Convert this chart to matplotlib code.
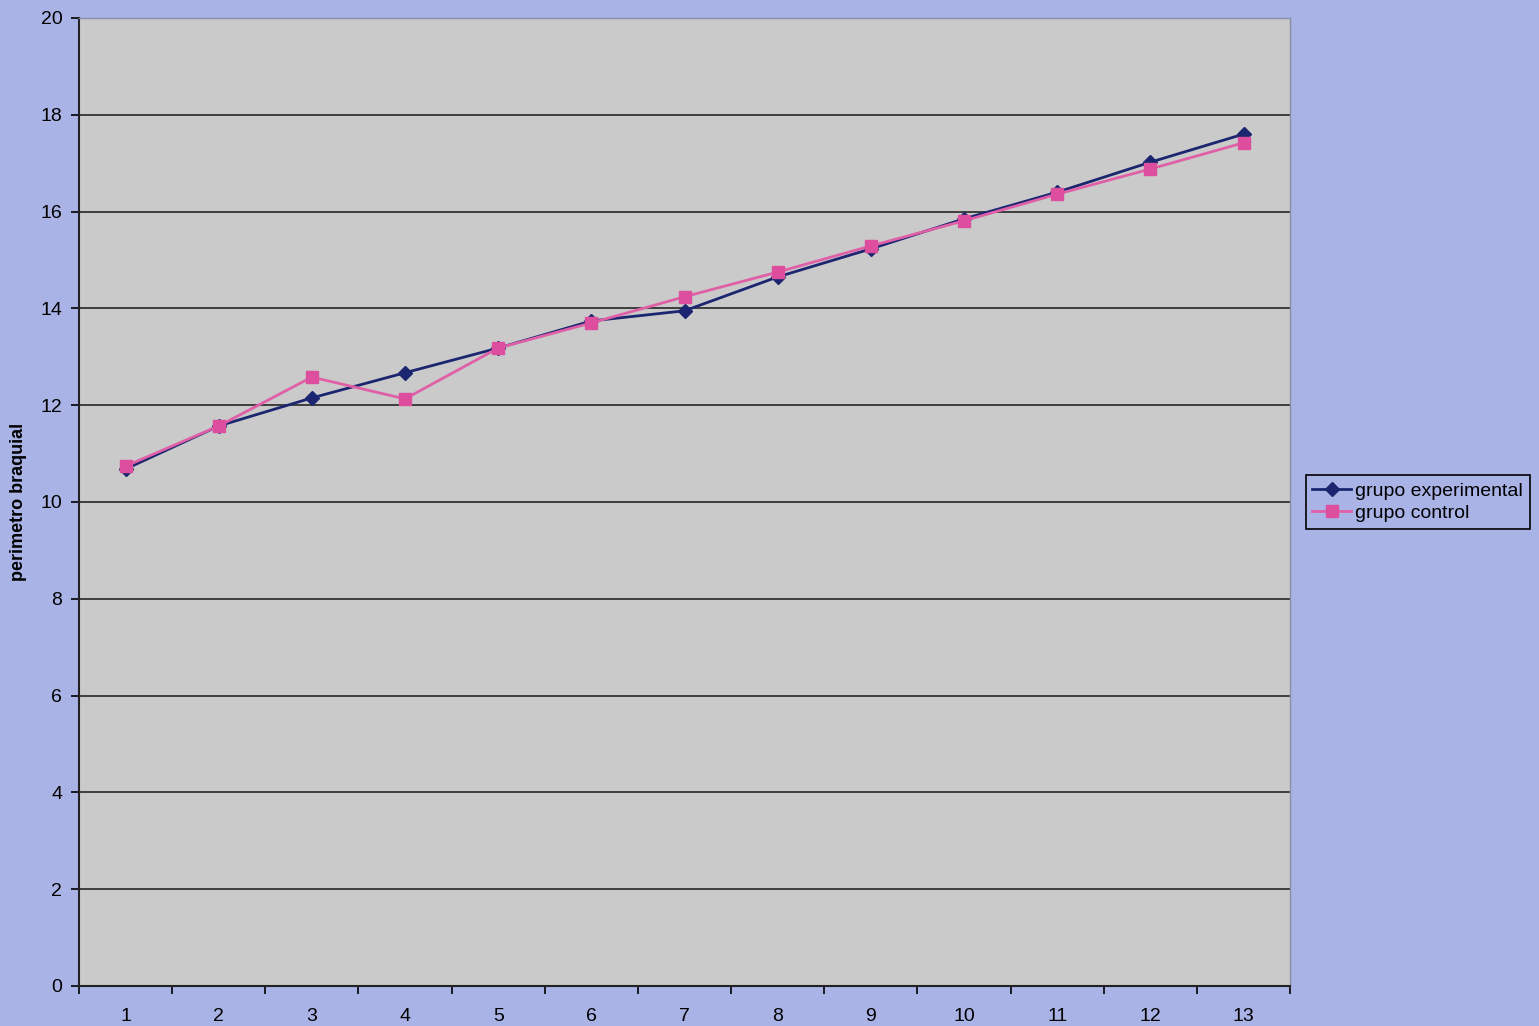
import numpy as np
import matplotlib.pyplot as plt
from matplotlib.ticker import FixedLocator, NullFormatter

# perimetro braquial por control (1..13)
controles = list(range(1, 14))
grupo_experimental = [10.68, 11.57, 12.15, 12.67, 13.18, 13.74, 13.95,
                      14.65, 15.23, 15.85, 16.40, 17.02, 17.60]
grupo_control = [10.74, 11.57, 12.58, 12.13, 13.18, 13.70, 14.24,
                 14.75, 15.29, 15.81, 16.36, 16.88, 17.42]
y_ticks = [0, 2, 4, 6, 8, 10, 12, 14, 16, 18, 20]

plt.rcParams['font.family'] = ['Liberation Sans', 'DejaVu Sans']

fig_bg = '#AAB3E6'
plot_bg = '#CACACA'

fig = plt.figure(figsize=(15.39, 10.26), dpi=100, facecolor=fig_bg)
ax = fig.add_axes([0.0513, 0.039, 0.787, 0.9435])
ax.set_facecolor(plot_bg)

x = np.array(controles)
ax.plot(x, grupo_experimental, color='#1C2670', linewidth=2, marker='D',
        markersize=7, markerfacecolor='#1C2670', markeredgecolor='#1C2670',
        label='grupo experimental', zorder=3)
ax.plot(x, grupo_control, color='#E060A8', linewidth=2, marker='s',
        markersize=8, markerfacecolor='#DD4F9E', markeredgecolor='#DD4F9E',
        label='grupo control', zorder=4)

ax.set_xlim(0.5, len(controles) + 0.5)
ax.set_ylim(0, 20)
ax.set_yticks(y_ticks)
ax.yaxis.grid(True, color='#333333', linewidth=1.3)
ax.set_axisbelow(True)

# category labels centred, tick marks between categories
ax.set_xticks(x)
ax.set_xticklabels([str(c) for c in controles])
ax.xaxis.set_minor_locator(FixedLocator(np.arange(0.5, len(controles) + 1, 1)))
ax.xaxis.set_minor_formatter(NullFormatter())
ax.tick_params(axis='x', which='major', length=0, pad=16, labelsize=14)
ax.tick_params(axis='x', which='minor', length=6, width=1.2, direction='out')
ax.tick_params(axis='y', length=6, width=1.2, direction='out', labelsize=14, pad=6)

for side in ['left', 'bottom']:
    ax.spines[side].set_color('#222222')
    ax.spines[side].set_linewidth(1.5)
for side in ['top', 'right']:
    ax.spines[side].set_color('#8890A8')
    ax.spines[side].set_linewidth(1.0)

ax.set_ylabel('perimetro braquial', fontsize=13, fontweight='bold', labelpad=10)

leg = ax.legend(loc='center left', bbox_to_anchor=(1.008, 0.5), fontsize=14,
                frameon=True, fancybox=False, handlelength=2.0,
                handletextpad=0.2, borderpad=0.35, labelspacing=0.25,
                borderaxespad=0.3)
leg.get_frame().set_facecolor(fig_bg)
leg.get_frame().set_edgecolor('black')
leg.get_frame().set_linewidth(1.2)
leg.get_frame().set_alpha(1)

plt.savefig('out.png', dpi=100, facecolor=fig_bg)
